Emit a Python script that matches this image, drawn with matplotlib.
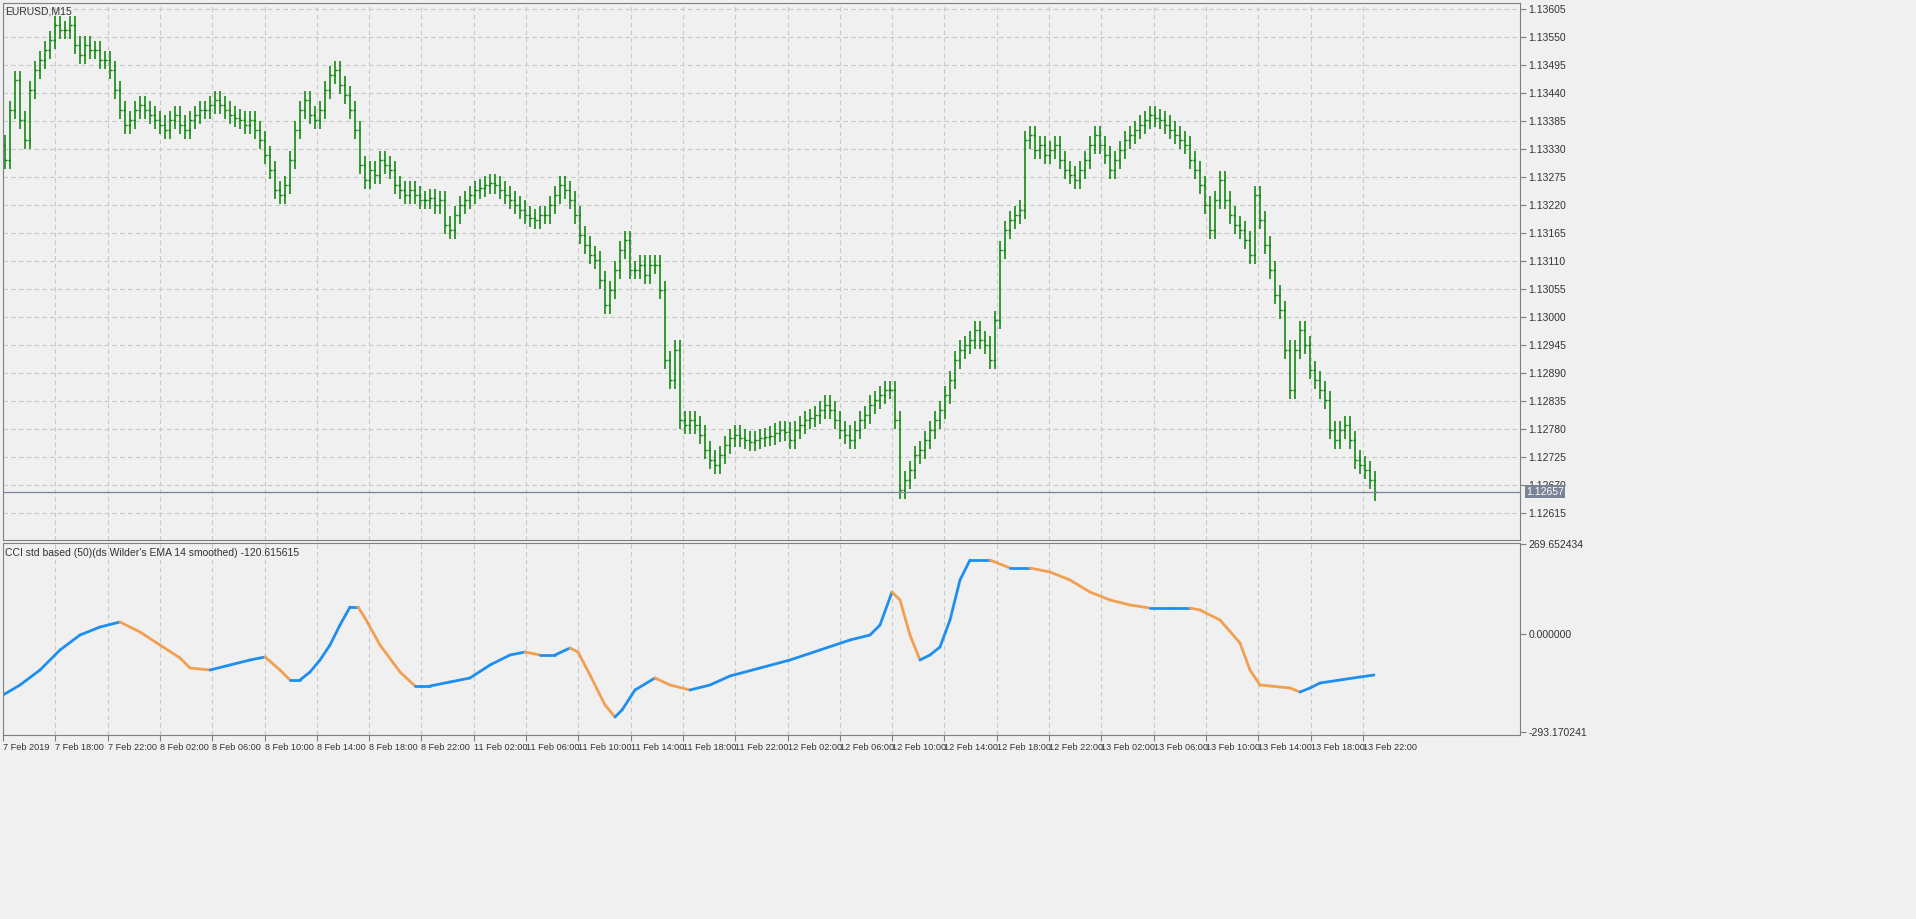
import matplotlib
matplotlib.use("Agg")
import matplotlib.pyplot as plt
import numpy as np
from matplotlib.collections import LineCollection

plt.rcParams['font.family'] = ['Liberation Sans', 'DejaVu Sans']

# closes in points: price = 1 + v/1e5
closes_pts = [13309,13407,13466,13387,13348,13446,13486,13505,13525,13544,13574,13564,13564,13574,13535,13515,13535,13525,13525,13505,
13505,13486,13446,13407,13378,13387,13407,13417,13407,13397,13387,13378,13368,13387,13397,13378,13368,13387,13397,13407,
13407,13417,13427,13417,13407,13397,13391,13387,13378,13387,13368,13348,13319,13289,13250,13240,13260,13309,13368,13407,
13427,13397,13387,13407,13446,13476,13486,13456,13436,13407,13368,13299,13269,13289,13279,13309,13299,13289,13260,13250,
13240,13250,13240,13230,13230,13234,13220,13230,13181,13171,13201,13220,13230,13240,13250,13254,13260,13264,13260,13250,
13240,13230,13220,13211,13201,13195,13191,13201,13201,13220,13240,13260,13250,13230,13201,13161,13142,13122,13112,13073,
13024,13053,13093,13132,13152,13093,13093,13103,13083,13103,13103,13053,12916,12877,12936,12798,12788,12798,12788,12769,
12739,12720,12710,12729,12749,12763,12769,12763,12759,12755,12759,12763,12765,12767,12773,12778,12775,12759,12778,12788,
12798,12802,12808,12818,12828,12818,12798,12778,12769,12759,12778,12798,12808,12828,12837,12847,12857,12857,12798,12661,
12680,12700,12729,12739,12759,12778,12798,12818,12847,12877,12916,12936,12945,12955,12975,12955,12945,12916,12994,13132,
13171,13191,13201,13211,13348,13358,13328,13338,13319,13328,13338,13309,13289,13279,13269,13289,13309,13338,13358,13338,
13319,13289,13309,13328,13348,13358,13368,13378,13387,13397,13391,13387,13378,13368,13358,13348,13338,13309,13289,13260,
13220,13171,13230,13269,13230,13201,13181,13171,13152,13122,13240,13191,13142,13093,13044,13014,12936,12857,12936,12975,
12945,12896,12877,12857,12837,12778,12759,12778,12788,12759,12720,12710,12700,12680,12657]

cci_bar = [-0.4,3,7,11,15,19,23,27,31,35,37,41,45,49,52,55,57,59,61,63,65,67,69,70.6,72,75,79,82,85,89,93,97,101,104,107,110,113,
114.6,117,120,122,123.4,126,130,133,137,141,145,151,157,163,169,173,175,177.4,179,181,183,185,187,189,191,193,197,201,205,
209,213,217,221,225,229,233,237,239,243,247,249,251,253,255,257,259,261,263,267,271,273.8]
cci_vals = [-183,-153,-108,-48,-3,21,36,6,-33,-72,-102,-108,-93,-78,-69,-108,-138,-138,-114,-78,-33,27,81,81,48,-33,-114,-156,
-156,-144,-132,-93,-63,-54,-63,-63,-42,-54,-123,-213,-249,-228,-168,-132,-153,-168,-153,-126,-102,-78,-48,-18,-3,27,126,102,
-3,-78,-63,-39,42,162,222,222,198,198,186,162,126,102,87,78,78,78,72,42,-27,-108,-153,-156,-159,-162,-174,-162,-147,-138,-129,-123]

time_labels = ["7 Feb 2019","7 Feb 18:00","7 Feb 22:00","8 Feb 02:00","8 Feb 06:00","8 Feb 10:00","8 Feb 14:00","8 Feb 18:00",
"8 Feb 22:00","11 Feb 02:00","11 Feb 06:00","11 Feb 10:00","11 Feb 14:00","11 Feb 18:00","11 Feb 22:00","12 Feb 02:00",
"12 Feb 06:00","12 Feb 10:00","12 Feb 14:00","12 Feb 18:00","12 Feb 22:00","13 Feb 02:00","13 Feb 06:00","13 Feb 10:00",
"13 Feb 14:00","13 Feb 18:00","13 Feb 22:00"]

price_ticks = [1.13605,1.13550,1.13495,1.13440,1.13385,1.13330,1.13275,1.13220,1.13165,1.13110,1.13055,1.13000,
1.12945,1.12890,1.12835,1.12780,1.12725,1.12670,1.12615]
cci_ticks = [269.652434, 0.0, -293.170241]
last_price = 1.12657

closes = 1 + np.array(closes_pts) / 1e5
opens = np.concatenate([[closes[0] + 0.0003], closes[:-1]])
wick = 0.00018
highs = np.maximum(opens, closes) + wick
lows = np.minimum(opens, closes) - wick
idx = np.arange(len(closes))

W, H = 1916, 919
fig = plt.figure(figsize=(W/100, H/100), dpi=100)
fig.patch.set_facecolor("#f0f0f0")
L, R = 3/W, 1520/W
ax = fig.add_axes([L, 1-540/H, R-L, 537/H])
ax2 = fig.add_axes([L, 1-735/H, R-L, 192/H])
bg = "#f0f0f0"; gridc = "#c8c8c8"; framec = "#808080"
for a in (ax, ax2):
    a.set_facecolor(bg)
    for s in a.spines.values():
        s.set_color(framec)
    a.yaxis.tick_right()
    a.tick_params(axis="both", labelsize=7.5, colors="#333333", length=4, color=framec, pad=2)
xmax = (1520-5)/5
ax.set_xlim(-0.4, xmax); ax2.set_xlim(-0.4, xmax)
tick_pos = [(3 + 52.3*k - 5)/5 for k in range(len(time_labels))]

green = "#008000"
ax.vlines(idx, lows, highs, color=green, lw=1.1)
ax.hlines(opens, idx-0.4, idx, color=green, lw=1)
ax.hlines(closes, idx, idx+0.4, color=green, lw=1)
ax.set_ylim(1.12562, 1.13617)
ax.set_yticks(price_ticks)
ax.set_yticklabels([f"{p:.5f}" for p in price_ticks])
ax.set_xticks(tick_pos); ax.set_xticklabels([])
ax.tick_params(axis="x", length=0)
ax.grid(True, color=gridc, ls=(0, (4, 3)), lw=0.8)
ax.axhline(last_price, color="#7a8496", lw=0.9)
ax.text(1.004, last_price, f"{last_price:.5f}", transform=ax.get_yaxis_transform(), fontsize=7.5,
        color="white", va="center", ha="left", bbox=dict(boxstyle="square,pad=0.15", fc="#7a8496", ec="none"))
ax.text(0.0015, 0.994, "EURUSD,M15", transform=ax.transAxes, fontsize=7.5, va="top", color="#333333")

xs = np.array(cci_bar); ys = np.array(cci_vals, dtype=float)
pts = np.column_stack([xs, ys]).reshape(-1, 1, 2)
segs = np.concatenate([pts[:-1], pts[1:]], axis=1)
cols = ["#1e8ff0" if ys[i+1] >= ys[i] else "#f0a050" for i in range(len(ys)-1)]
ax2.add_collection(LineCollection(segs, colors=cols, lw=2, capstyle="round", joinstyle="round"))
ax2.set_ylim(-303, 273)
ax2.set_yticks(cci_ticks)
ax2.set_yticklabels([f"{v:.6f}" for v in cci_ticks])
ax2.set_xticks(tick_pos)
ax2.set_xticklabels(time_labels, ha="left", fontsize=6.6)
ax2.grid(True, axis="x", color=gridc, ls=(0, (4, 3)), lw=0.8)
ax2.text(0.0015, 0.975, "CCI std based (50)(ds Wilder's EMA 14 smoothed) -120.615615", transform=ax2.transAxes,
         fontsize=7.5, va="top", color="#333333")
fig.savefig("out.png", dpi=100, facecolor=fig.get_facecolor())
